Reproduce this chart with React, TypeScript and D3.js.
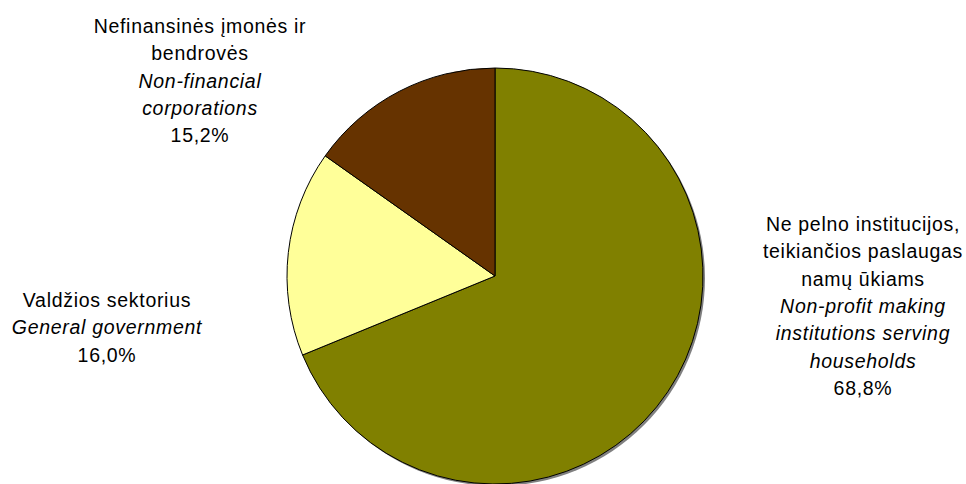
import React, { useRef, useEffect } from 'react';
import * as d3 from 'd3';

// sector shares, clockwise from 12 o'clock
const sectorsLt = [
  ['Ne pelno institucijos,', 'teikiančios paslaugas', 'namų ūkiams'],
  ['Valdžios sektorius'],
  ['Nefinansinės įmonės ir', 'bendrovės'],
];
const sectorsEn = [
  ['Non-profit making', 'institutions serving', 'households'],
  ['General government'],
  ['Non-financial', 'corporations'],
];
const shares = [68.8, 16.0, 15.2];
const shareLabels = ['68,8%', '16,0%', '15,2%'];

const SLICE_COLORS = ['#808000', '#FFFF99', '#663300'];

// label block anchors (centre x, first baseline)
const LABEL_POS = [
  { x: 863, y: 231 },
  { x: 107, y: 307 },
  { x: 200, y: 33 },
];

const WIDTH = 966;
const HEIGHT = 484;

export default function App() {
  const svgRef = useRef<SVGSVGElement>(null);

  useEffect(() => {
    if (!svgRef.current) return;
    const svg = d3.select(svgRef.current);
    svg.selectAll('*').remove();

    const cx = 495;
    const cy = 276;
    const radius = 208;

    const pie = d3.pie<number>().sort(null).value((d) => d);
    const arc = d3.arc<d3.PieArcDatum<number>>().innerRadius(0).outerRadius(radius);
    const arcs = pie(shares);

    // shadow
    svg
      .append('circle')
      .attr('cx', cx + 2)
      .attr('cy', cy + 2)
      .attr('r', radius)
      .attr('fill', '#808080');

    const g = svg.append('g').attr('transform', `translate(${cx},${cy})`);
    g.selectAll('path')
      .data(arcs)
      .enter()
      .append('path')
      .attr('d', arc)
      .attr('fill', (d, i) => SLICE_COLORS[i])
      .attr('stroke', '#000')
      .attr('stroke-width', 1);

    const lineH = 27.3;
    shares.forEach((_, i) => {
      const pos = LABEL_POS[i];
      const lines = [
        ...sectorsLt[i].map((t) => ({ t, italic: false })),
        ...sectorsEn[i].map((t) => ({ t, italic: true })),
        { t: shareLabels[i], italic: false },
      ];
      const text = svg
        .append('text')
        .attr('text-anchor', 'middle')
        .attr('font-family', '"Liberation Sans", Arial, sans-serif')
        .attr('font-size', '19.5px')
        .attr('letter-spacing', '0.7px')
        .attr('fill', '#000');
      lines.forEach((l, k) => {
        text
          .append('tspan')
          .attr('x', pos.x)
          .attr('y', pos.y + k * lineH)
          .attr('font-style', l.italic ? 'italic' : 'normal')
          .text(l.t);
      });
    });
  }, []);

  return (
    <div style={{ position: 'absolute', left: 0, top: 0, background: '#fff' }}>
      <svg ref={svgRef} width={WIDTH} height={HEIGHT} style={{ display: 'block' }} />
    </div>
  );
}
